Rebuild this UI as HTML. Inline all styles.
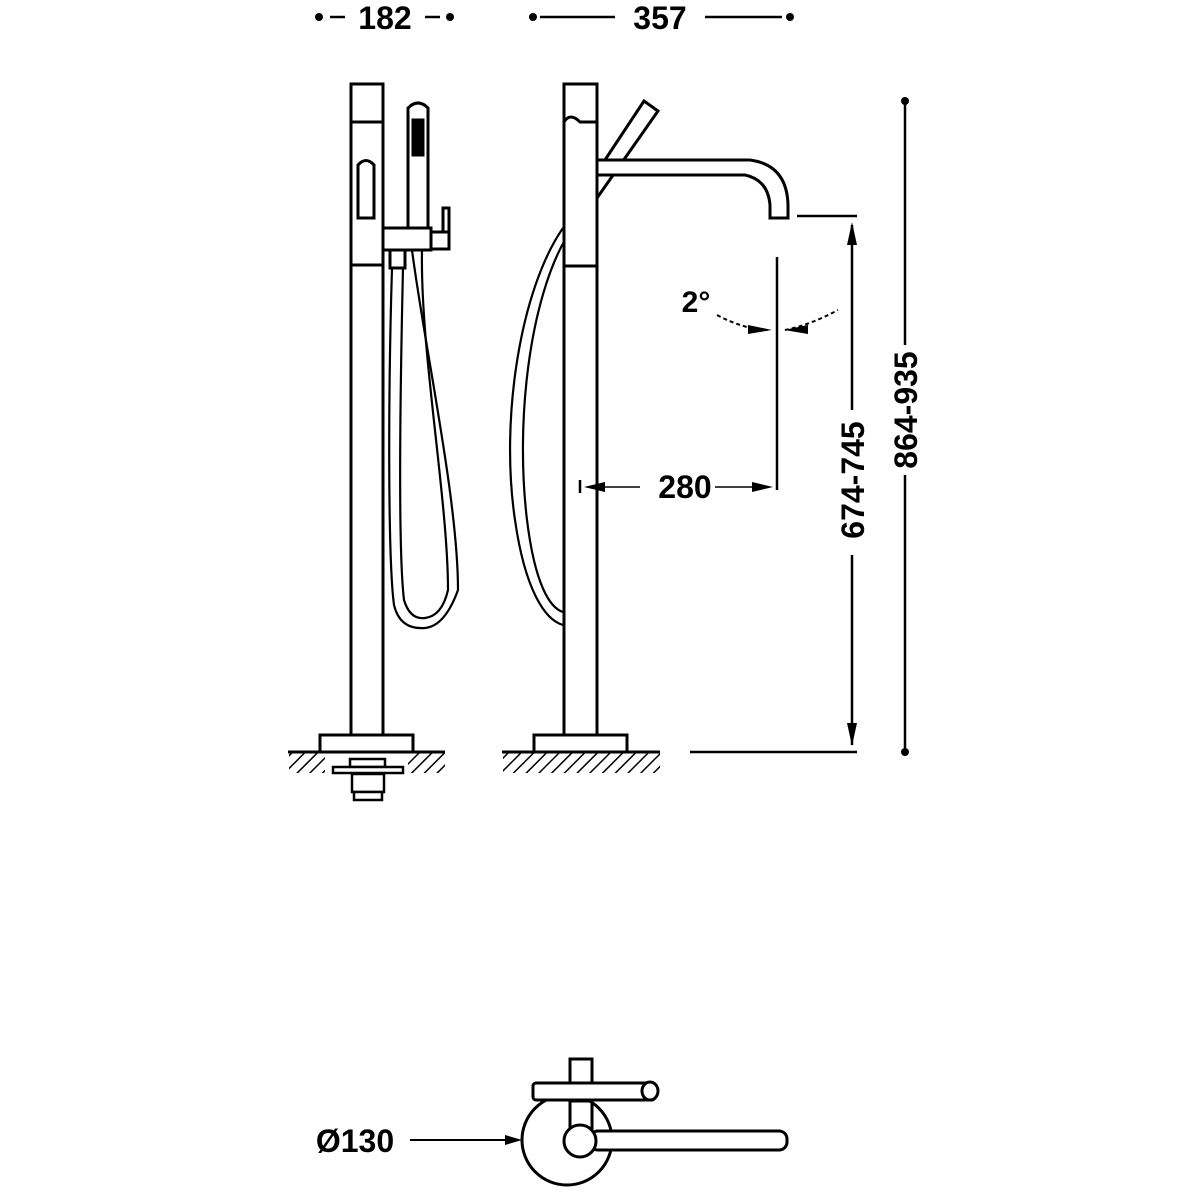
<!DOCTYPE html>
<html><head><meta charset="utf-8"><style>
html,body{margin:0;padding:0;background:#fff}
svg{display:block}
text{font-family:"Liberation Sans",sans-serif;font-weight:bold;fill:#000}
</style></head><body>
<svg width="1200" height="1200" viewBox="0 0 1200 1200" xmlns="http://www.w3.org/2000/svg">
<defs>
<pattern id="h" width="9" height="9" patternUnits="userSpaceOnUse" patternTransform="rotate(45)">
<rect width="9" height="9" fill="#fff"/><line x1="0" y1="0" x2="0" y2="9" stroke="#000" stroke-width="3"/>
</pattern>
</defs>
<g fill="none" stroke="#000" stroke-width="2.5">
<line x1="330" y1="17" x2="345" y2="17"/><line x1="425" y1="17" x2="440" y2="17"/>
<line x1="540" y1="17" x2="615" y2="17"/><line x1="705" y1="17" x2="782" y2="17"/>
</g>
<g fill="#000">
<circle cx="319" cy="17" r="4"/><circle cx="450" cy="17" r="4"/>
<circle cx="533" cy="17" r="4"/><circle cx="790" cy="17" r="4"/>
<circle cx="905" cy="101" r="4"/><circle cx="905" cy="752" r="4"/>
</g>
<text x="385" y="29" font-size="32" text-anchor="middle">182</text>
<text x="660" y="29" font-size="32" text-anchor="middle">357</text>

<!-- LEFT VIEW -->
<g fill="none" stroke="#000" stroke-width="3">
<rect x="351" y="84" width="32" height="651"/>
<line x1="351" y1="122" x2="383" y2="122"/>
<line x1="351" y1="265" x2="383" y2="265"/>
<path d="M358 218 V165 Q366 156 374 165 V218 Z"/>
<path d="M408 228 V108 Q418 98 428 108 V228"/>
<rect x="413" y="120" width="10" height="35" fill="#000"/>
<rect x="383" y="228" width="48" height="22"/>
<rect x="431" y="232" width="18" height="17"/>
<rect x="443" y="208" width="6" height="24"/>
<rect x="390" y="250" width="15" height="18"/>
</g>
<g fill="none" stroke="#000" stroke-width="2.2">
<path d="M392 268 C388 400 388 560 394 605 Q400 630 425 628 Q445 626 458 590 C458 500 425 350 412 250"/>
<path d="M403 268 C400 400 398 550 404 600 Q410 620 425 618 Q442 616 448 590 C448 500 420 350 422 250"/>
<path d="M563 228 C520 290 500 420 515 520 C525 590 545 620 563 625"/>
<path d="M566 238 C530 300 515 420 527 520 C535 585 550 608 563 612"/>
</g>
<rect x="320" y="735" width="93" height="17" fill="#fff" stroke="#000" stroke-width="3"/>
<rect x="289" y="753" width="36" height="20" fill="url(#h)"/>
<rect x="408" y="753" width="37" height="20" fill="url(#h)"/>
<line x1="288" y1="752" x2="445" y2="752" stroke="#000" stroke-width="3"/>
<g fill="#fff" stroke="#000" stroke-width="2.5">
<rect x="350" y="759" width="35" height="8"/>
<rect x="333" y="767" width="70" height="6"/>
<rect x="352" y="774" width="32" height="18"/>
<rect x="354" y="792" width="28" height="8"/>
</g>

<!-- RIGHT VIEW -->
<g fill="#fff" stroke="#000" stroke-width="3">
<path d="M597 172 L644 101 L658 111 L597 198 Z"/>
<rect x="564" y="84" width="33" height="651"/>
<path d="M564 122 Q570 112 580 122 H597" fill="none"/>
<line x1="564" y1="266" x2="597" y2="266"/>
<path d="M597 160 H750 Q787 165 788 205 V218 H770 V205 Q768 180 745 175 H597 Z"/>
</g>
<rect x="534" y="735" width="93" height="17" fill="#fff" stroke="#000" stroke-width="3"/>
<rect x="503" y="753" width="157" height="20" fill="url(#h)"/>
<line x1="502" y1="752" x2="660" y2="752" stroke="#000" stroke-width="3"/>

<g fill="none" stroke="#000" stroke-width="2.5">
<line x1="797" y1="216" x2="857" y2="216"/>
<line x1="690" y1="752" x2="857" y2="752"/>
<line x1="852" y1="225" x2="852" y2="410"/>
<line x1="852" y1="555" x2="852" y2="745"/>
<line x1="905" y1="101" x2="905" y2="345"/>
<line x1="905" y1="475" x2="905" y2="752"/>
<line x1="777" y1="257" x2="777" y2="490"/>
<line x1="580" y1="480" x2="580" y2="493"/>
<line x1="600" y1="487" x2="640" y2="487" stroke-width="1.5"/>
<line x1="715" y1="487" x2="760" y2="487" stroke-width="1.5"/>
<path d="M717 315 Q745 330 770 330" stroke-dasharray="4 3" stroke-width="2"/>
<path d="M785 330 Q810 325 838 310" stroke-dasharray="4 3" stroke-width="2"/>
</g>
<g fill="#000">
<polygon points="852,222 847,245 857,245"/>
<polygon points="852,746 847,723 857,723"/>
<polygon points="584,487 605,482 605,492"/>
<polygon points="773,487 752,482 752,492"/>
<polygon points="772,330 748,325 748,334"/>
<polygon points="784,330 808,325 808,334"/>
</g>
<text x="696" y="312" font-size="30" text-anchor="middle" font-weight="normal">2°</text>
<text x="685" y="498" font-size="32" text-anchor="middle">280</text>
<text transform="translate(864,480) rotate(-90)" font-size="32" text-anchor="middle">674-745</text>
<text transform="translate(917,410) rotate(-90)" font-size="32" text-anchor="middle">864-935</text>

<g fill="#fff" stroke="#000" stroke-width="3">
<circle cx="567" cy="1140" r="45"/>
<rect x="570" y="1059" width="22" height="42"/>
<rect x="533" y="1083" width="122" height="17" rx="3"/>
<ellipse cx="650" cy="1091" rx="8" ry="9"/>
<line x1="570" y1="1100" x2="570" y2="1130"/>
<line x1="592" y1="1100" x2="592" y2="1130"/>
<rect x="590" y="1131" width="197" height="19" rx="8"/>
<circle cx="580" cy="1141" r="16"/>
</g>
<line x1="410" y1="1140" x2="510" y2="1140" stroke="#000" stroke-width="2"/>
<polygon points="522,1140 505,1135 505,1145" fill="#000"/>
<text x="355" y="1152" font-size="32" text-anchor="middle">Ø130</text>
</svg>
</body></html>
